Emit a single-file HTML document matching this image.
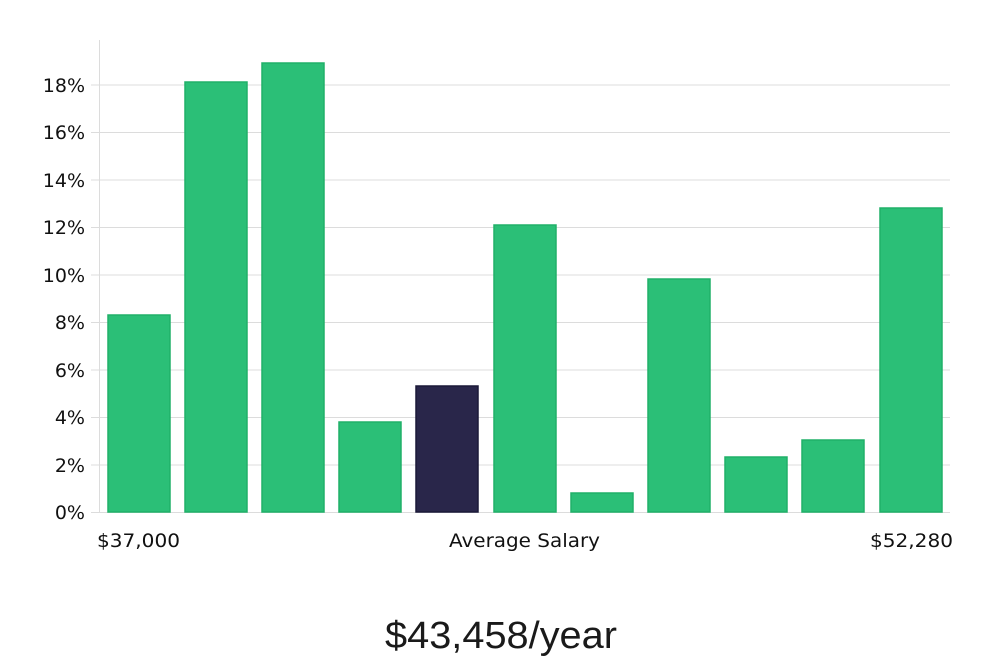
<!DOCTYPE html>
<html><head><meta charset="utf-8"><style>
html,body{margin:0;padding:0;background:#fff;}
svg{display:block;}
text{font-family:"DejaVu Sans","Liberation Sans",sans-serif;fill:#111;}
</style></head><body>
<svg width="1000" height="660" viewBox="0 0 1000 660" xmlns="http://www.w3.org/2000/svg">
<g stroke="#dcdcdc" stroke-width="1">
<line x1="99" y1="512.5" x2="950" y2="512.5"/>
<line x1="99" y1="465" x2="950" y2="465"/>
<line x1="99" y1="417.5" x2="950" y2="417.5"/>
<line x1="99" y1="370" x2="950" y2="370"/>
<line x1="99" y1="322.5" x2="950" y2="322.5"/>
<line x1="99" y1="275" x2="950" y2="275"/>
<line x1="99" y1="227.5" x2="950" y2="227.5"/>
<line x1="99" y1="180" x2="950" y2="180"/>
<line x1="99" y1="132.5" x2="950" y2="132.5"/>
<line x1="99" y1="85" x2="950" y2="85"/>
<line x1="99.5" y1="40" x2="99.5" y2="512"/>
<line x1="91" y1="512.5" x2="99" y2="512.5"/>
<line x1="91" y1="465" x2="99" y2="465"/>
<line x1="91" y1="417.5" x2="99" y2="417.5"/>
<line x1="91" y1="370" x2="99" y2="370"/>
<line x1="91" y1="322.5" x2="99" y2="322.5"/>
<line x1="91" y1="275" x2="99" y2="275"/>
<line x1="91" y1="227.5" x2="99" y2="227.5"/>
<line x1="91" y1="180" x2="99" y2="180"/>
<line x1="91" y1="132.5" x2="99" y2="132.5"/>
<line x1="91" y1="85" x2="99" y2="85"/>
</g>
<g font-size="19" text-anchor="end">
<text x="85" y="519">0%</text>
<text x="85" y="472">2%</text>
<text x="85" y="424">4%</text>
<text x="85" y="377">6%</text>
<text x="85" y="329">8%</text>
<text x="85" y="282">10%</text>
<text x="85" y="234">12%</text>
<text x="85" y="187">14%</text>
<text x="85" y="139">16%</text>
<text x="85" y="92">18%</text>
</g>
<g fill="#2bbf77" stroke="#20b068" stroke-width="1.5">
<rect x="108" y="315" width="62" height="197"/>
<rect x="185" y="82" width="62" height="430"/>
<rect x="262" y="63" width="62" height="449"/>
<rect x="339" y="422" width="62" height="90"/>
<rect x="494" y="225" width="62" height="287"/>
<rect x="571" y="493" width="62" height="19"/>
<rect x="648" y="279" width="62" height="233"/>
<rect x="725" y="457" width="62" height="55"/>
<rect x="802" y="440" width="62" height="72"/>
<rect x="880" y="208" width="62" height="304"/>
</g>
<rect x="416" y="386" width="62" height="126" fill="#29264a" stroke="#1a1838" stroke-width="1.5"/>
<g font-size="19">
<text x="97" y="547" textLength="83" lengthAdjust="spacingAndGlyphs">$37,000</text>
<text x="449" y="547" textLength="151" lengthAdjust="spacingAndGlyphs">Average Salary</text>
<text x="870" y="547" textLength="83" lengthAdjust="spacingAndGlyphs">$52,280</text>
</g>
<text x="501" y="648" text-anchor="middle" font-size="38" textLength="232" lengthAdjust="spacingAndGlyphs" style="font-family:'Liberation Sans','DejaVu Sans',sans-serif;fill:#1a1a1a;">$43,458/year</text>
</svg>
</body></html>
